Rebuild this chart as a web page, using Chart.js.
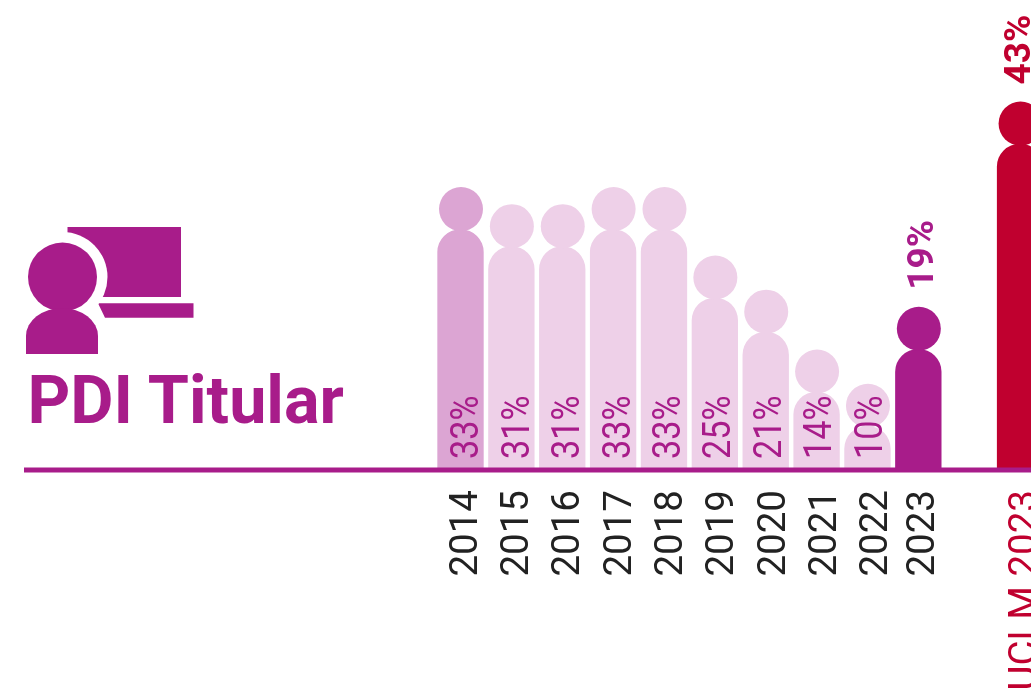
<!DOCTYPE html>
<html><head><meta charset="utf-8">
<style>
html,body{margin:0;padding:0;background:#fff;overflow:hidden;width:1031px;height:696px}
#wrap{position:relative;width:1031px;height:696px;overflow:hidden}
canvas{position:absolute;left:0;top:0}
svg{position:absolute;left:0;top:0}
</style>
<script src="https://cdn.jsdelivr.net/npm/chart.js@4"></script>
</head><body>
<div id="wrap">
<canvas id="c" width="1100" height="800" style="width:1100px;height:800px"></canvas>
<svg width="1031" height="696" viewBox="0 0 1031 696">
  <rect x="67.5" y="227" width="113.5" height="70" fill="#a81c8a"/>
  <polygon points="98,303.3 193.5,303.3 193.5,317.8 105,317.8" fill="#a81c8a"/>
  <circle cx="62.5" cy="277" r="45" fill="#fff"/>
  <path d="M26 354V336A36 28 0 0 1 98 336V354Z" fill="#a81c8a" stroke="#fff" stroke-width="10"/>
  <circle cx="62.5" cy="277" r="34.5" fill="#a81c8a"/>
  <path d="M26 354V336A36 28 0 0 1 98 336V354Z" fill="#a81c8a"/>
  <text x="27.5" y="422.7" font-family="Roboto" font-weight="700" font-size="66.5" fill="#a81c8a">PDI Titular</text>
</svg>
</div>
<script>
const categories = ['2014','2015','2016','2017','2018','2019','2020','2021','2022','2023','','UCLM 2023'];
const values = [33,31,31,33,33,25,21,14,10,19,null,43];
const valueLabels = ['33%','31%','31%','33%','33%','25%','21%','14%','10%','19%','','43%'];
const barColors = ['#dca5d3','#eed0e8','#eed0e8','#eed0e8','#eed0e8','#eed0e8','#eed0e8','#eed0e8','#eed0e8','#a81c8a','#ffffff','#c0002f'];
const tickColors = ['#222','#222','#222','#222','#222','#222','#222','#222','#222','#222','#222','#c0002f'];
const textColors = ['#a81c8a','#a81c8a','#a81c8a','#a81c8a','#a81c8a','#a81c8a','#a81c8a','#a81c8a','#a81c8a','#a81c8a','#a81c8a','#c0002f'];
const emphasized = [false,false,false,false,false,false,false,false,false,true,false,true];

const people = {
  id:'people',
  beforeDraw(chart){
    // the first nine axis labels sit on a slightly wider pitch than the bars
    chart.scales.x.getLabelItems().forEach((item,i)=>{
      if(!item.shifted){
        item.options.translation[0] += i<9 ? i*0.45-1 : -1.5;
        item.shifted = true;
      }
    });
  },
  afterDatasetsDraw(chart){
    const ctx = chart.ctx, meta = chart.getDatasetMeta(0);
    meta.data.forEach((bar,i)=>{
      if(values[i]==null) return;
      const cy = bar.y-20.5;
      ctx.save();
      ctx.fillStyle = barColors[i];
      ctx.beginPath(); ctx.arc(bar.x+0.5,cy,22,0,Math.PI*2); ctx.fill();
      ctx.fillStyle = textColors[i];
      ctx.textAlign='left'; ctx.textBaseline='alphabetic';
      if(emphasized[i]){
        ctx.translate(bar.x+(i===11?10:15), cy-39);
        ctx.rotate(-Math.PI/2);
        ctx.font='700 37px Roboto';
      } else {
        ctx.translate(bar.x+17.6-i*0.4, 459);
        ctx.rotate(-Math.PI/2);
        ctx.scale(0.9,1);
        ctx.font='400 38px Roboto';
      }
      ctx.fillText(valueLabels[i],0,0);
      ctx.restore();
    });
    ctx.save();
    ctx.fillStyle='#a81c8a';
    ctx.fillRect(24,467.5,1076,5);
    ctx.restore();
  }
};

new Chart(document.getElementById('c'),{
  type:'bar',
  data:{labels:categories,datasets:[{
    data:values,
    backgroundColor:barColors,
    barThickness:45.7,
    borderRadius:{topLeft:23,topRight:23,bottomLeft:0,bottomRight:0},
    borderSkipped:false
  }]},
  plugins:[people],
  options:{
    responsive:false,animation:false,
    layout:{padding:{left:435.07,right:54.5,top:0,bottom:0}},
    plugins:{legend:{display:false},tooltip:{enabled:false},title:{display:false}},
    scales:{
      y:{display:false,min:5,max:59.85,grid:{display:false}},
      x:{
        grid:{display:false},border:{display:false},
        afterFit(s){s.height=331;},
        ticks:{
          minRotation:90,maxRotation:90,autoSkip:false,padding:13,labelOffset:7.5,
          color:c=>tickColors[c.index],
          font:{family:'Roboto',size:38.5,weight:'400'}
        }
      }
    }
  }
});
</script>
</body></html>
